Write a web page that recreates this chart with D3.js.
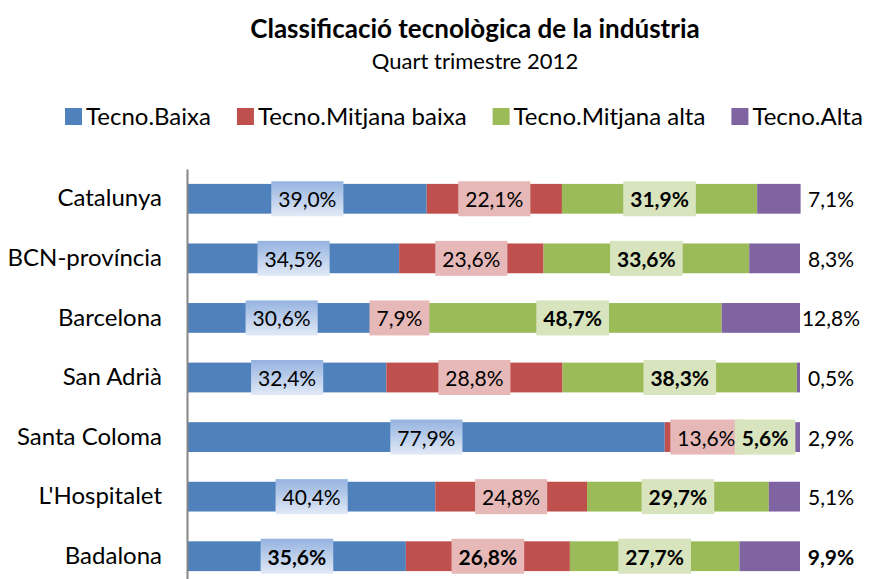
<!DOCTYPE html>
<html>
<head>
<meta charset="utf-8">
<script src="https://cdn.jsdelivr.net/npm/d3@7"></script>
<style>
  body { margin: 0; background: #fff; }
  svg { display: block; font-family: Lato, "Open Sans", sans-serif; }
</style>
</head>
<body>
<div id="chart"></div>
<script>
const categories = ["Catalunya", "BCN-província", "Barcelona", "San Adrià", "Santa Coloma", "L'Hospitalet", "Badalona"];
const seriesNames = ["Tecno.Baixa", "Tecno.Mitjana baixa", "Tecno.Mitjana alta", "Tecno.Alta"];
const baixa = [39.0, 34.5, 30.6, 32.4, 77.9, 40.4, 35.6];
const mitjanaBaixa = [22.1, 23.6, 7.9, 28.8, 13.6, 24.8, 26.8];
const mitjanaAlta = [31.9, 33.6, 48.7, 38.3, 5.6, 29.7, 27.7];
const alta = [7.1, 8.3, 12.8, 0.5, 2.9, 5.1, 9.9];
const boldSeries = ["Tecno.Mitjana alta"];
const boldCategories = ["Badalona"];

const colors = ["#4f81bd", "#c0504d", "#9bbb59", "#8064a2"];
const boxFills = ["url(#blueBox)", "#e6b9b8", "#d7e4bd", null];

const width = 890, height = 579;
const fmt = v => v.toFixed(1).replace(".", ",") + "%";

const svg = d3.select("#chart").append("svg")
    .attr("width", width)
    .attr("height", height);

const grad = svg.append("defs").append("linearGradient")
    .attr("id", "blueBox")
    .attr("x1", 0).attr("y1", 0).attr("x2", 0).attr("y2", 1);
grad.append("stop").attr("offset", "0%").attr("stop-color", "#95b3e0");
grad.append("stop").attr("offset", "100%").attr("stop-color", "#e1e9f6");

// titles
svg.append("text")
    .attr("x", 475).attr("y", 38)
    .attr("text-anchor", "middle")
    .attr("font-weight", "bold")
    .attr("font-size", 26)
    .text("Classificació tecnològica de la indústria");

svg.append("text")
    .attr("x", 475).attr("y", 69)
    .attr("text-anchor", "middle")
    .attr("font-size", 22)
    .text("Quart trimestre 2012");

// stack the series
const rows = categories.map((c, i) => ({
  category: c,
  "Tecno.Baixa": baixa[i],
  "Tecno.Mitjana baixa": mitjanaBaixa[i],
  "Tecno.Mitjana alta": mitjanaAlta[i],
  "Tecno.Alta": alta[i]
}));
const stacked = d3.stack().keys(seriesNames)(rows);

const x = d3.scaleLinear()
    .domain([0, 100])
    .range([188, 800]);

const y = d3.scaleBand()
    .domain(categories)
    .range([169, 586])
    .paddingInner(0.5)
    .paddingOuter(0.25);

// bars
const layer = svg.append("g").selectAll("g")
  .data(stacked)
  .join("g")
    .attr("fill", (d, i) => colors[i]);

layer.selectAll("rect")
  .data(d => d)
  .join("rect")
    .attr("x", d => x(d[0]))
    .attr("y", d => y(d.data.category))
    .attr("width", d => x(d[1]) - x(d[0]))
    .attr("height", y.bandwidth());

// axis
const axis = svg.append("g")
    .attr("transform", "translate(187,0)")
    .call(d3.axisLeft(y).tickSize(0).tickPadding(25));
axis.select(".domain").attr("stroke", "#868686").attr("stroke-width", 2);
axis.selectAll(".tick text")
    .attr("font-family", "Lato, sans-serif")
    .attr("font-size", 24)
    .attr("fill", "#000");

// data labels
stacked.forEach((s, si) => {
  s.forEach(d => {
    const cat = d.data.category;
    const bold = boldSeries.includes(s.key) || boldCategories.includes(cat);
    const cy = y(cat) + y.bandwidth() / 2;
    const outside = boxFills[si] === null;
    const cx = outside ? x(100) + 31 : (x(d[0]) + x(d[1])) / 2;
    const g = svg.append("g");
    const box = g.append("rect");
    const t = g.append("text")
        .attr("x", cx).attr("y", cy)
        .attr("text-anchor", "middle")
        .attr("dominant-baseline", "central")
        .attr("font-size", 21)
        .attr("font-weight", bold ? "bold" : "normal")
        .text(fmt(d.data[s.key]));
    if (!outside) {
      const w = t.node().getComputedTextLength() + 14;
      box.attr("x", cx - w / 2)
          .attr("y", cy - 17.5)
          .attr("width", w)
          .attr("height", 35)
          .attr("fill", boxFills[si]);
    } else {
      box.remove();
    }
  });
});

// legend
const legend = svg.append("g");
let lx = 65;
seriesNames.forEach((name, i) => {
  legend.append("rect")
      .attr("x", lx).attr("y", 108)
      .attr("width", 17).attr("height", 17)
      .attr("fill", colors[i]);
  const t = legend.append("text")
      .attr("x", lx + 21).attr("y", 125)
      .attr("font-size", 24)
      .text(name);
  lx += 21 + t.node().getComputedTextLength() + 26;
});
</script>
</body>
</html>
